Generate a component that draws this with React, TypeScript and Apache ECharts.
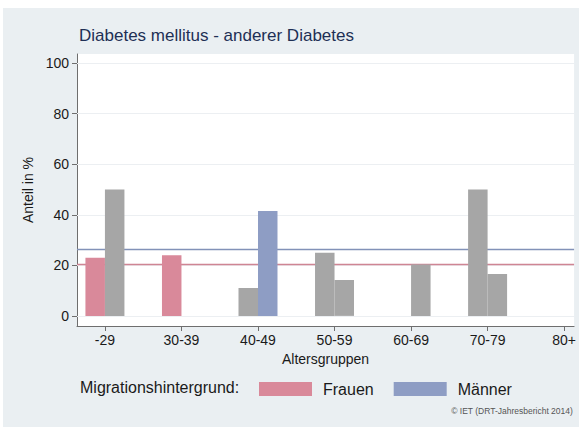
import React, { useEffect, useRef } from "react";
import * as echarts from "echarts";

const categories = ["-29", "30-39", "40-49", "50-59", "60-69", "70-79", "80+"];
const frauenValues: (number | null)[] = [23, 24, 11, 25, null, 50, null];
const maennerValues: (number | null)[] = [50, null, 41.5, 14.2, 20.3, 16.6, null];
// true = bar shown in grey (small case numbers)
const frauenGrey = [false, false, true, true, false, true, false];
const maennerGrey = [true, false, false, true, true, true, false];
const refFrauen = 20.4;
const refMaenner = 26.5;
const yTicks = [0, 20, 40, 60, 80, 100];
const xTicks = [0, 1, 2, 3, 4, 5, 6];

const PINK = "#d9899a";
const BLUE = "#8e9dc4";
const GREY = "#a6a6a6";
const FONT = "Liberation Sans, Arial, Helvetica, sans-serif";

function buildData(values: (number | null)[], grey: boolean[]) {
  const out: any[] = [];
  values.forEach((v, i) => {
    if (v === null) return;
    const item: any = { value: [i, v] };
    if (grey[i]) item.itemStyle = { color: GREY };
    out.push(item);
  });
  return out;
}

export default function App() {
  const ref = useRef<HTMLDivElement>(null);
  useEffect(() => {
    if (!ref.current) return;
    const chart = echarts.init(ref.current, null, { renderer: "svg" });
    const option: any = {
      animation: false,
      textStyle: { fontFamily: FONT },
      title: {
        text: "Diabetes mellitus - anderer Diabetes",
        left: 74,
        top: 22,
        textStyle: { fontSize: 17, fontWeight: "normal", color: "#1e2f55", fontFamily: FONT },
      },
      graphic: [
        {
          type: "rect",
          z: -10,
          shape: { x: 3, y: 8, width: 580, height: 419 },
          style: { fill: "#eaeff2" },
        },
        {
          type: "text",
          left: 80,
          top: 379,
          style: { text: "Migrationshintergrund:", fontSize: 16, fill: "#1a1a1a", fontFamily: FONT },
        },
        {
          type: "text",
          right: 6,
          top: 406,
          style: { text: "© IET (DRT-Jahresbericht 2014)", fontSize: 8.5, fill: "#555", fontFamily: FONT },
        },
      ],
      legend: {
        left: 259,
        top: 381,
        padding: 0,
        itemWidth: 53,
        itemHeight: 14,
        itemGap: 20,
        icon: "rect",
        data: ["Frauen", "Männer"],
        textStyle: { fontSize: 16, color: "#1a1a1a", fontFamily: FONT, padding: [0, 0, 0, 6] },
      },
      grid: {
        left: 77,
        right: 4,
        top: 54,
        bottom: 104,
        show: true,
        backgroundColor: "#ffffff",
        borderWidth: 0,
      },
      xAxis: {
        type: "value",
        min: -0.365,
        max: 6.13,
        name: "Altersgruppen",
        nameLocation: "middle",
        nameGap: 22,
        nameTextStyle: { fontSize: 14, color: "#1a1a1a", fontFamily: FONT },
        axisLine: { show: true, onZero: false, lineStyle: { color: "#6e6e6e", width: 1 } },
        axisTick: { show: true, length: 5, customValues: xTicks, lineStyle: { color: "#6e6e6e" } },
        axisLabel: {
          customValues: xTicks,
          fontSize: 14,
          color: "#1a1a1a",
          margin: 7,
          formatter: (v: number) => categories[Math.round(v)] ?? "",
        },
        splitLine: { show: false },
      },
      yAxis: {
        type: "value",
        min: -4,
        max: 103.6,
        name: "Anteil in %",
        nameLocation: "middle",
        nameGap: 42,
        nameTextStyle: { fontSize: 14, color: "#1a1a1a", fontFamily: FONT },
        axisLine: { show: true, onZero: false, lineStyle: { color: "#6e6e6e", width: 1 } },
        axisTick: { show: true, length: 5, customValues: yTicks, lineStyle: { color: "#6e6e6e" } },
        axisLabel: {
          customValues: yTicks,
          fontSize: 14,
          color: "#1a1a1a",
          margin: 8,
        },
        splitLine: { show: false },
      },
      series: [
        {
          name: "Frauen",
          type: "bar",
          z: 3,
          barWidth: 19.5,
          barGap: "0%",
          itemStyle: { color: PINK },
          data: buildData(frauenValues, frauenGrey),
          markLine: {
            silent: true,
            z: 1,
            symbol: "none",
            label: { show: false },
            data: [
              ...yTicks.map((t) => ({ yAxis: t, lineStyle: { color: "#eceff2", width: 1, type: "solid" } })),
              { yAxis: refFrauen, lineStyle: { color: "#cf8594", width: 1.3, type: "solid" } },
              { yAxis: refMaenner, lineStyle: { color: "#8292b8", width: 1.3, type: "solid" } },
            ],
          },
        },
        {
          name: "Männer",
          type: "bar",
          z: 3,
          barWidth: 19.5,
          barGap: "0%",
          itemStyle: { color: BLUE },
          data: buildData(maennerValues, maennerGrey),
        },
      ],
    };
    chart.setOption(option);
    return () => chart.dispose();
  }, []);
  return (
    <div
      ref={ref}
      style={{ position: "absolute", left: 0, top: 0, width: 579, height: 430, background: "#ffffff" }}
    />
  );
}
